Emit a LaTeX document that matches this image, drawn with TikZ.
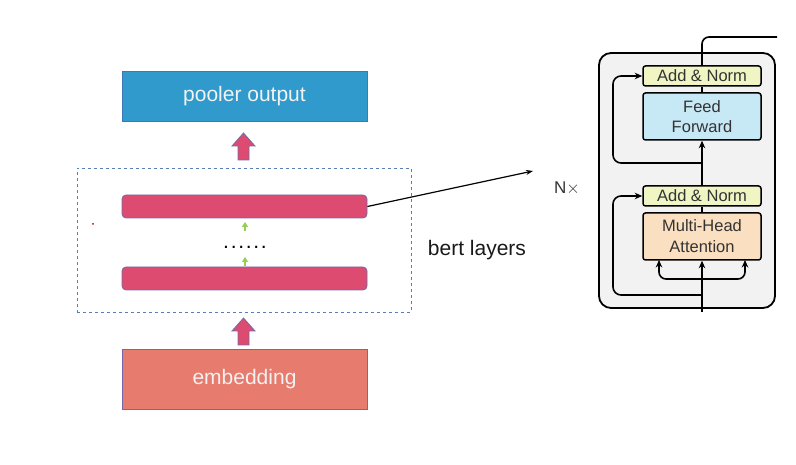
\documentclass[tikz,border=0pt]{standalone}
\usepackage{fontspec}
\setmainfont{Liberation Sans}
\usetikzlibrary{arrows.meta}
\definecolor{poolc}{HTML}{2F9ACB}
\definecolor{poolb}{HTML}{3F78B8}
\definecolor{layc}{HTML}{DE4B70}
\definecolor{layb}{HTML}{7468A8}
\definecolor{embc}{HTML}{E67B6E}
\definecolor{dashc}{HTML}{5B7DB5}
\definecolor{greenc}{HTML}{92D050}
\definecolor{graybg}{HTML}{F2F2F2}
\definecolor{anc}{HTML}{F1F5C4}
\definecolor{ffc}{HTML}{C7E8F5}
\definecolor{mhac}{HTML}{FADFC0}
\definecolor{txtc}{HTML}{333333}
\tikzset{
  bigbox/.style={draw=#1, line width=0.8pt, minimum width=245pt, inner sep=0pt, text=white!95!black, font=\fontsize{21}{24}\selectfont},
  laybar/.style={draw=layb, fill=layc, line width=0.8pt, rounded corners=4pt, minimum width=245pt, minimum height=23pt, inner sep=0pt},
  blockarrow/.style={draw=layb, fill=layc, line width=0.8pt},
  tbox/.style={draw=black, line width=1.5pt, rounded corners=2.5pt, minimum width=118pt, inner sep=0pt, text=txtc, font=\fontsize{16.5}{19}\selectfont, align=center},
  tline/.style={line width=1.6pt, black},
  tarrow/.style={line width=1.6pt, black, -{Stealth[length=7.5pt,width=6.5pt]}},
  garrow/.style={greenc, line width=1.2pt, -{Triangle[length=5pt,width=6pt]}}
}
\newcommand{\dotsp}{\hspace{1.7pt}}
\begin{document}
\begin{tikzpicture}[x=1pt,y=-1pt]
\useasboundingbox (0,0) rectangle (796,465);
% left stack
\node[bigbox=poolb, fill=poolc, minimum height=50pt] (pool) at (244.5,96) {\raisebox{-2pt}{pooler output}};
\node[draw=dashc, dashed, line width=0.8pt, minimum width=334pt, minimum height=144pt, inner sep=0pt] (bert) at (244,240) {};
\node[laybar] (l1) at (244.5,206.5) {};
\node[laybar] (l2) at (244.5,278.5) {};
\node[bigbox=layb, fill=embc, minimum height=60pt] (emb) at (244.5,379) {\raisebox{-2pt}{embedding}};
\node[anchor=base, font=\fontsize{21}{24}\selectfont, text=black] (dots) at (245,249) {.\dotsp.\dotsp.\dotsp.\dotsp.\dotsp.};
\fill[red!70!black] (93,224) circle (1pt);
% green arrows
\draw[garrow] (245,231) -- (245,222);
\draw[garrow] (245,266) -- (245,257);
% block arrows
\draw[blockarrow] (238,160) -- (238,146) -- (232,146) -- (243.5,133) -- (255,146) -- (249,146) -- (249,160) -- cycle;
\draw[blockarrow] (238,345) -- (238,331) -- (232,331) -- (243.5,318) -- (255,331) -- (249,331) -- (249,345) -- cycle;
% connector
\coordinate (tgt) at (533,171);
\draw[line width=1.2pt, -{Stealth[length=7pt,width=5pt]}] (l1.east) -- (tgt);
\node[font=\fontsize{21}{24}\selectfont, text=black!90] (bl) at (477,250) {bert layers};
\node[font=\fontsize{17}{20}\selectfont, text=txtc] (nx) at (567,188) {N$\times$};
% transformer block
\node[draw=black, fill=graybg, line width=1.8pt, rounded corners=12pt, minimum width=176pt, minimum height=255pt, inner sep=0pt] (outer) at (687,180.5) {};
\node[tbox, fill=anc, minimum height=20pt] (an2) at (702,76) {Add \& Norm};
\node[tbox, fill=ffc, minimum height=47pt] (ff) at (702,116.5) {Feed\\[1pt]Forward};
\node[tbox, fill=anc, minimum height=20pt] (an1) at (702,196) {Add \& Norm};
\node[tbox, fill=mhac, minimum height=47pt] (mha) at (702,236.5) {Multi-Head\\[2pt]Attention};
\coordinate (inp) at (702,312);
\coordinate (outp) at (777,37);
\coordinate (r1) at (702,295);
\coordinate (r2) at (702,163);
\coordinate (br) at (702,279);
\draw[tarrow] (inp) -- (mha.south);
\draw[tline] (mha.north) -- (an1.south);
\draw[tarrow] (an1.north) -- (ff.south);
\draw[tline] (ff.north) -- (an2.south);
\draw[tline, rounded corners=7pt] (an2.north) -- (702,37) -- (outp);
\draw[tarrow, rounded corners=8pt] (r1) -- (613,295) -- (613,196) -- (an1.west);
\draw[tarrow, rounded corners=8pt] (r2) -- (613,163) -- (613,76) -- (an2.west);
\draw[tarrow, rounded corners=7pt] (br) -- (659,279) -- (659,260);
\draw[tarrow, rounded corners=7pt] (br) -- (745,279) -- (745,260);
\end{tikzpicture}
\end{document}
